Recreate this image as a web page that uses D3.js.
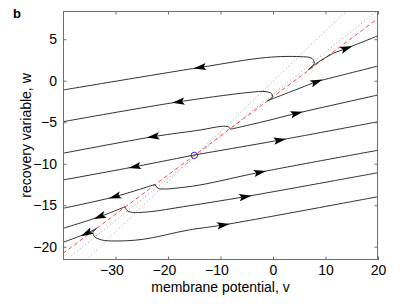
<!DOCTYPE html>
<html>
<head>
<meta charset="utf-8">
<script src="https://cdn.jsdelivr.net/npm/d3@7"></script>
<style>
  body { margin: 0; background: #fff; }
  text { font-family: "Liberation Sans", Arial, sans-serif; }
</style>
</head>
<body>
<svg id="chart" width="407" height="306"></svg>
<script>
// axis limits and ticks
var vLimits = [-40, 20];
var wLimits = [-21.6, 8.4];
var xTicks = [-30, -20, -10, 0, 10, 20];
var yTicks = [-20, -15, -10, -5, 0, 5];

// fixed point, stable direction and the two nullclines
var fixedPoint = [-15, -9];
var stableLine = [[-40, -20.8], [20, 7.5]];
var vNullcline = [[-39.4, -21.6], [19.8, 8.4]];
var wNullcline = [[-35.6, -21.6], [14.0, 8.4]];

// trajectories, points in the order of the flow [v, w]
var trajL1 = [[6.7, 1.3], [7.4, 1.7], [7.85, 2.1], [7.4, 2.7], [5.1, 2.9], [-1.2, 2.8], [-13.9, 1.6], [-40, -1.12]];
var trajR1 = [[6.7, 1.3], [8.3, 2.1], [11.5, 3.3], [14.0, 3.9], [20, 5.42]];
var trajL2 = [[-1.0, -2.4], [-0.45, -2.2], [-0.1, -1.84], [-0.3, -1.54], [-1.5, -1.3], [-4.4, -1.4], [-18.0, -2.55], [-40, -4.94]];
var trajR2 = [[-1.0, -2.4], [5.1, -0.9], [8.3, -0.12], [11.5, 0.41], [20, 1.77]];
var trajL3 = [[-8.1, -5.85], [-8.5, -5.55], [-9.8, -5.5], [-13.9, -5.94], [-22.8, -6.74], [-40, -8.74]];
var trajR3 = [[-8.1, -5.85], [-1.9, -4.94], [4.5, -3.93], [20, -1.72]];
var trajL4 = [[-15, -8.95], [-26.3, -10.36], [-40, -11.96]];
var trajR4 = [[-15, -8.95], [1.3, -7.15], [20, -4.94]];
var trajL5 = [[-22.5, -12.5], [-30.1, -13.97], [-40, -15.37]];
var trajR5 = [[-22.5, -12.5], [-21.85, -12.96], [-20.6, -13.05], [-18.7, -12.96], [-13.9, -12.56], [-2.5, -11.03], [20, -8.38]];
var trajL6 = [[-28.2, -15.18], [-33.0, -16.38], [-40, -17.78]];
var trajR6 = [[-28.2, -15.18], [-27.8, -15.64], [-26.9, -15.85], [-23.4, -15.78], [-17.1, -15.18], [-5.3, -13.97], [20, -11.08]];
var trajL7 = [[-33.6, -17.78], [-35.5, -18.39], [-40, -19.47]];
var trajR7 = [[-33.6, -17.78], [-34.3, -18.29], [-33.9, -18.83], [-32.6, -19.19], [-30.1, -19.31], [-24.8, -19.11], [-16.1, -17.99], [-9.5, -17.38], [20, -13.97]];

// where the arrow heads sit
var arrowPos = [[-13.9, 1.6], [-18.0, -2.55], [-22.8, -6.74], [-26.3, -10.36], [-30.1, -13.97], [-33.0, -16.38], [-35.5, -18.39],
                [14.0, 3.9], [8.3, -0.12], [4.5, -3.93], [1.3, -7.15], [-2.5, -11.03], [-5.3, -13.97], [-9.5, -17.38]];

var xLabel = "membrane potential, v";
var yLabel = "recovery variable, w";
var panel = "b";

var trajectories = [trajL1, trajR1, trajL2, trajR2, trajL3, trajR3, trajL4, trajR4, trajL5, trajR5, trajL6, trajR6, trajL7, trajR7];

var W = 407, H = 306;
var m = {l: 63, r: 29, t: 11, b: 46};
var svg = d3.select("#chart");

var x = d3.scaleLinear().domain(vLimits).range([m.l, W - m.r]);
var y = d3.scaleLinear().domain(wLimits).range([H - m.b, m.t]);

svg.append("clipPath").attr("id", "clip")
  .append("rect")
  .attr("x", m.l).attr("y", m.t)
  .attr("width", W - m.l - m.r).attr("height", H - m.t - m.b);

var plot = svg.append("g").attr("clip-path", "url(#clip)");

var straight = d3.line().x(d => x(d[0])).y(d => y(d[1]));
var smooth = d3.line().x(d => x(d[0])).y(d => y(d[1])).curve(d3.curveCatmullRom.alpha(0.5));

// nullclines
plot.selectAll("path.nc")
  .data([vNullcline, wNullcline])
  .join("path")
  .attr("class", "nc")
  .attr("d", straight)
  .attr("fill", "none")
  .attr("stroke", "#909090")
  .attr("stroke-width", 0.9)
  .attr("stroke-dasharray", "1,2.5");

// stable manifold
plot.append("path")
  .datum(stableLine)
  .attr("d", straight)
  .attr("fill", "none")
  .attr("stroke", "#ff3030")
  .attr("stroke-width", 0.9)
  .attr("stroke-dasharray", "4,3");

// trajectories
plot.selectAll("path.traj")
  .data(trajectories)
  .join("path")
  .attr("class", "traj")
  .attr("d", smooth)
  .attr("fill", "none")
  .attr("stroke", "#1a1a1a")
  .attr("stroke-width", 0.9);

// arrow heads, direction taken from the nearest trajectory segment
function nearestDir(p) {
  var px = x(p[0]), py = y(p[1]);
  var best = null, bestD = Infinity;
  trajectories.forEach(function(t) {
    for (var i = 0; i < t.length - 1; i++) {
      var ax = x(t[i][0]), ay = y(t[i][1]);
      var bx = x(t[i + 1][0]), by = y(t[i + 1][1]);
      var dx = bx - ax, dy = by - ay;
      var L2 = dx * dx + dy * dy;
      var s = Math.max(0, Math.min(1, ((px - ax) * dx + (py - ay) * dy) / L2));
      var qx = ax + s * dx - px, qy = ay + s * dy - py;
      var d = qx * qx + qy * qy;
      if (d < bestD - 1e-6) { bestD = d; best = [dx, dy]; }
    }
  });
  return Math.atan2(best[1], best[0]) * 180 / Math.PI;
}

plot.selectAll("path.arrow")
  .data(arrowPos)
  .join("path")
  .attr("class", "arrow")
  .attr("d", "M6.5,0 L-6,-3.6 L-3.6,0 L-6,3.6 Z")
  .attr("fill", "#000")
  .attr("transform", d => "translate(" + x(d[0]) + "," + y(d[1]) + ") rotate(" + nearestDir(d) + ")");

// fixed point
plot.append("circle")
  .attr("cx", x(fixedPoint[0])).attr("cy", y(fixedPoint[1]))
  .attr("r", 3.2)
  .attr("fill", "none")
  .attr("stroke", "#1010ff")
  .attr("stroke-width", 0.9);

// axes
var axisColor = "#6e6e6e";
var fmt = d3.format("d");

var gx = svg.append("g").attr("transform", "translate(0," + (H - m.b) + ")")
  .call(d3.axisBottom(x).tickValues(xTicks).tickFormat(fmt).tickSizeInner(-3.5).tickSizeOuter(0).tickPadding(5));
svg.append("g").attr("transform", "translate(0," + m.t + ")")
  .call(d3.axisTop(x).tickValues(xTicks).tickFormat("").tickSizeInner(-3.5).tickSizeOuter(0));
var gy = svg.append("g").attr("transform", "translate(" + m.l + ",0)")
  .call(d3.axisLeft(y).tickValues(yTicks).tickFormat(fmt).tickSizeInner(-3.5).tickSizeOuter(0).tickPadding(6));
svg.append("g").attr("transform", "translate(" + (W - m.r) + ",0)")
  .call(d3.axisRight(y).tickValues(yTicks).tickFormat("").tickSizeInner(-3.5).tickSizeOuter(0));

svg.selectAll(".domain").remove();
svg.selectAll(".tick line").attr("stroke", axisColor);
svg.selectAll(".tick text").attr("font-size", 14).attr("fill", "#000")
  .style("font-family", "'Liberation Sans', Arial, sans-serif");

// digits centred on the tick, the minus sign hangs to the left
gx.selectAll(".tick text").each(function(d) {
  if (d < 0) {
    var t = d3.select(this);
    var full = this.getComputedTextLength();
    t.text(fmt(-d));
    var digits = this.getComputedTextLength();
    t.text(fmt(d));
    t.attr("dx", -(full - digits) / 2);
  }
});

svg.append("rect")
  .attr("x", m.l + 0.5).attr("y", m.t + 0.5)
  .attr("width", W - m.l - m.r - 1).attr("height", H - m.t - m.b - 1)
  .attr("fill", "none")
  .attr("stroke", axisColor)
  .attr("stroke-width", 1);

svg.append("text")
  .attr("x", (m.l + W - m.r) / 2).attr("y", 292)
  .attr("text-anchor", "middle")
  .attr("font-size", 14)
  .text(xLabel);

svg.append("text")
  .attr("transform", "translate(31," + ((m.t + H - m.b) / 2) + ") rotate(-90)")
  .attr("text-anchor", "middle")
  .attr("font-size", 14)
  .text(yLabel);

svg.append("text")
  .attr("x", 13).attr("y", 18)
  .attr("font-size", 13)
  .attr("font-weight", "bold")
  .text(panel);
</script>
</body>
</html>
